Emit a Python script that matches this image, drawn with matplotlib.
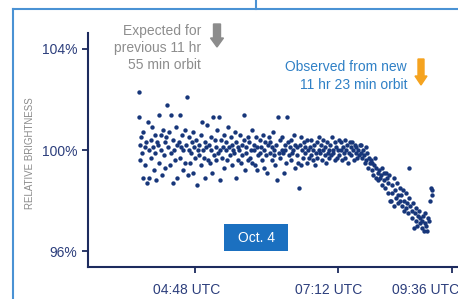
import matplotlib
matplotlib.use("Agg")
import matplotlib.pyplot as plt
from matplotlib.patches import FancyArrow, Rectangle
from matplotlib.lines import Line2D
from matplotlib.transforms import IdentityTransform, ScaledTranslation

plt.rcParams['font.family'] = ['Liberation Sans', 'DejaVu Sans']

# -----------------------------
# Data (hours UTC, relative brightness in %)
# -----------------------------
time_h = [
    3.85, 3.86, 3.87, 3.88, 3.89, 3.90, 3.92, 3.93, 3.95, 3.96, 3.98, 3.99,
    4.01, 4.02, 4.03, 4.05, 4.06, 4.07, 4.09, 4.10, 4.12, 4.13, 4.14, 4.16,
    4.18, 4.19, 4.20, 4.22, 4.23, 4.24, 4.26, 4.27, 4.29, 4.30, 4.31, 4.33,
    4.35, 4.36, 4.38, 4.39, 4.40, 4.42, 4.43, 4.44, 4.46, 4.47, 4.49, 4.50,
    4.52, 4.54, 4.55, 4.56, 4.58, 4.59, 4.60, 4.62, 4.63, 4.65, 4.66, 4.67,
    4.69, 4.70, 4.71, 4.73, 4.74, 4.76, 4.77, 4.78, 4.80, 4.81, 4.83, 4.84,
    4.86, 4.87, 4.89, 4.90, 4.91, 4.93, 4.94, 4.96, 4.97, 4.98, 5.00, 5.01,
    5.03, 5.04, 5.06, 5.07, 5.08, 5.10, 5.11, 5.13, 5.14, 5.15, 5.17, 5.18,
    5.20, 5.21, 5.22, 5.24, 5.25, 5.27, 5.28, 5.29, 5.31, 5.32, 5.34, 5.35,
    5.37, 5.38, 5.40, 5.41, 5.42, 5.44, 5.45, 5.47, 5.48, 5.49, 5.51, 5.52,
    5.54, 5.55, 5.56, 5.58, 5.59, 5.61, 5.62, 5.63, 5.65, 5.66, 5.68, 5.69,
    5.71, 5.72, 5.73, 5.75, 5.76, 5.78, 5.79, 5.80, 5.82, 5.83, 5.84, 5.86,
    5.88, 5.89, 5.90, 5.92, 5.93, 5.95, 5.96, 5.97, 5.99, 6.00, 6.02, 6.03,
    6.05, 6.06, 6.08, 6.09, 6.10, 6.12, 6.13, 6.14, 6.16, 6.17, 6.19, 6.20,
    6.22, 6.23, 6.25, 6.26, 6.27, 6.29, 6.30, 6.31, 6.33, 6.34, 6.36, 6.37,
    6.39, 6.40, 6.41, 6.43, 6.44, 6.46, 6.47, 6.48, 6.50, 6.51, 6.53, 6.54,
    6.56, 6.57, 6.58, 6.60, 6.61, 6.63, 6.64, 6.65, 6.67, 6.68, 6.70, 6.71,
    6.73, 6.74, 6.75, 6.77, 6.78, 6.80, 6.81, 6.82, 6.84, 6.85, 6.87, 6.88,
    6.90, 6.91, 6.92, 6.94, 6.95, 6.97, 6.98, 6.99, 7.01, 7.02, 7.04, 7.05,
    7.07, 7.08, 7.09, 7.11, 7.12, 7.14, 7.15, 7.16, 7.18, 7.19, 7.21, 7.22,
    7.24, 7.25, 7.26, 7.28, 7.29, 7.31, 7.32, 7.33, 7.35, 7.36, 7.38, 7.39,
    7.41, 7.42, 7.43, 7.45, 7.46, 7.48, 7.49, 7.50, 7.52, 7.53, 7.55, 7.56,
    7.58, 7.59, 7.60, 7.62, 7.63, 7.65, 7.66, 7.67, 7.69, 7.70, 7.72, 7.73,
    7.75, 7.76, 7.77, 7.79, 7.80, 7.82, 7.83, 7.84, 7.86, 7.87, 7.89, 7.90,
    7.92, 7.93, 7.94, 7.96, 7.97, 7.99, 8.00, 8.01, 8.03, 8.04, 8.06, 8.07,
    8.09, 8.10, 8.11, 8.13, 8.14, 8.16, 8.17, 8.18, 8.20, 8.21, 8.23, 8.24,
    8.26, 8.27, 8.28, 8.30, 8.31, 8.33, 8.34, 8.35, 8.37, 8.38, 8.39, 8.41,
    8.43, 8.44, 8.46, 8.47, 8.48, 8.50, 8.51, 8.53, 8.54, 8.56, 8.57, 8.58,
    8.60, 8.61, 8.62, 8.64, 8.65, 8.66, 8.68, 8.69, 8.70, 8.72, 8.74, 8.76, 8.77, 8.77,
]

brightness = [
    102.3, 101.3, 100.2, 99.6, 100.5, 99.9, 98.9, 100.7, 100.1, 99.4, 100.3, 98.7,
    101.1, 100.0, 98.9, 100.4, 99.7, 100.9, 100.1, 99.2, 100.6, 99.9, 98.8, 100.3,
    100.2, 101.4, 99.5, 100.6, 100.0, 99.0, 100.8, 99.8, 100.3, 99.3, 100.5, 101.8,
    100.1, 100.7, 99.4, 101.4, 99.9, 100.4, 98.7, 100.0, 99.6, 100.9, 100.2, 98.9,
    100.3, 101.4, 99.7, 100.1, 100.6, 99.2, 100.0, 100.8, 99.5, 100.2, 102.1, 99.0,
    100.0, 100.5, 99.5, 99.9, 100.3, 99.1, 100.7, 100.1, 99.7, 100.4, 98.6, 100.0,
    99.8, 100.2, 100.6, 99.4, 101.1, 100.0, 99.7, 100.3, 98.9, 100.1, 101.0, 99.6,
    100.2, 99.5, 100.5, 100.0, 99.1, 101.3, 99.8, 100.4, 100.1, 99.6, 100.8, 99.9,
    101.3, 100.0, 98.8, 100.4, 99.7, 100.1, 100.6, 99.3, 100.0, 100.3, 99.6, 100.9,
    100.1, 99.8, 100.5, 99.4, 100.2, 100.0, 99.9, 100.7, 98.9, 100.3, 99.6, 100.1,
    100.0, 100.6, 99.5, 100.2, 99.8, 100.4, 101.4, 99.2, 100.1, 99.9, 100.5, 99.6,
    100.3, 99.7, 100.0, 100.8, 99.5, 100.2, 100.0, 99.4, 100.5, 100.1, 99.2, 99.8,
    100.4, 99.9, 100.1, 99.6, 100.6, 100.0, 99.3, 100.3, 99.8, 99.1, 100.2, 100.5,
    99.9, 100.3, 99.6, 100.1, 100.7, 99.8, 100.0, 99.4, 100.2, 98.8, 101.3, 99.9,
    100.4, 99.7, 100.0, 100.5, 99.9, 99.1, 100.2, 100.0, 99.5, 101.3, 100.3, 99.8,
    100.1, 99.6, 100.4, 99.9, 100.0, 100.6, 99.3, 100.2, 99.8, 100.1, 99.5, 98.5,
    100.2, 99.4, 100.5, 100.0, 99.7, 100.3, 99.9, 100.1, 99.5, 100.4, 100.0, 99.7,
    100.1, 99.8, 100.4, 99.6, 100.0, 100.2, 99.4, 99.9, 100.3, 99.7, 100.0, 100.5,
    99.9, 100.2, 99.6, 100.0, 100.4, 99.8, 100.1, 99.5, 100.3, 99.9, 100.0, 99.7,
    100.2, 99.8, 100.5, 99.9, 100.0, 99.6, 100.3, 100.1, 99.7, 100.0, 100.4, 99.8,
    100.0, 100.3, 99.6, 100.1, 99.9, 100.4, 99.7, 100.0, 100.2, 99.5, 99.9, 100.3,
    100.1, 99.8, 100.3, 100.0, 99.6, 100.2, 99.9, 100.1, 99.7, 100.0, 99.8, 100.2,
    99.9, 100.2, 99.7, 100.0, 99.8, 99.5, 100.1, 99.6, 99.9, 99.3, 99.7, 99.5,
    99.6, 99.2, 99.5, 99.0, 99.4, 99.7, 98.9, 99.3, 99.1, 98.8, 99.2, 98.9,
    99.0, 98.6, 99.3, 98.8, 99.1, 98.5, 99.1, 98.9, 98.3, 98.7, 99.0, 98.0,
    98.0, 98.6, 98.3, 98.9, 97.8, 98.4, 98.1, 98.7, 98.2, 97.9, 98.5, 98.0,
    98.2, 97.8, 98.4, 97.6, 98.0, 97.7, 98.3, 97.9, 97.5, 98.1, 99.3, 97.8,
    97.6, 97.3, 97.9, 96.9, 97.5, 97.2, 97.7, 97.0, 97.4, 97.6, 97.1, 97.3,
    97.2, 96.9, 97.4, 96.8, 97.1, 97.5, 97.0, 96.8, 97.3, 97.2, 98.0, 98.5, 98.2, 98.4,
]

y_ticks = [96, 100, 104]
y_tick_labels = ["96%", "100%", "104%"]
x_ticks = [4.8, 7.2, 9.11]
x_tick_labels = ["04:48 UTC", "07:12 UTC", "09:36 UTC"]

W, H = 458, 299
NAVY = "#1d2b5e"
DOT = "#17367a"


def fx(px):
    return px / W


def fy(py):
    # py measured from the top of the image
    return 1 - py / H


fig = plt.figure(figsize=(W / 100, H / 100), dpi=100)
fig.patch.set_facecolor("white")

ax = fig.add_axes([fx(88), fy(267), fx(W - 88), (267 - 33) / H])
ax.scatter(time_h, brightness, s=10, color=DOT, linewidths=0, zorder=3)

ax.set_xlim(3.0, 9.21)
ax.set_ylim(95.37, 104.63)
ax.set_yticks(y_ticks)
ax.set_yticklabels(y_tick_labels)
ax.set_xticks(x_ticks)
ax.set_xticklabels(x_tick_labels)

for side in ["top", "right"]:
    ax.spines[side].set_visible(False)
for side in ["left", "bottom"]:
    ax.spines[side].set_color(NAVY)
    ax.spines[side].set_linewidth(1.5)

ax.tick_params(axis="y", length=4.5, width=1.3, color=NAVY, pad=3,
               labelsize=10, labelcolor="#2c3e7c")
ax.tick_params(axis="x", length=4.5, width=1.3, color=NAVY, pad=7,
               labelsize=10, labelcolor="#2c3e7c")

# the time labels sit a little left of their ticks in the original
for lbl, shift_px in zip(ax.get_xticklabels(), [-9, -10, -26]):
    lbl.set_transform(lbl.get_transform() +
                      ScaledTranslation(shift_px / 100, 0, fig.dpi_scale_trans))

# y axis title
fig.text(fx(30), fy(153), "RELATIVE BRIGHTNESS", rotation=90, ha="center",
         va="center", fontsize=7, color="#8a8a8a")

# annotations
fig.text(fx(201), fy(48), "Expected for\nprevious 11 hr\n55 min orbit",
         ha="right", va="center", fontsize=10, color="#8d8d8d",
         linespacing=1.3)
fig.text(fx(407), fy(76), "Observed from new\n11 hr 23 min orbit",
         ha="right", va="center", fontsize=10, color="#2f80c6",
         linespacing=1.35)

# block arrows (pixel coordinates)
fig.add_artist(FancyArrow(217, H - 24, 0, -23, width=7, head_width=13,
                          head_length=9, length_includes_head=True,
                          color="#8c8c8c", transform=IdentityTransform()))
fig.add_artist(FancyArrow(421, H - 59, 0, -26, width=6, head_width=12,
                          head_length=9, length_includes_head=True,
                          color="#f5a31f", transform=IdentityTransform()))

# date box
fig.add_artist(Rectangle((fx(224), fy(251)), fx(64), (251 - 224) / H,
                         transform=fig.transFigure, facecolor="#1b70c0",
                         edgecolor="none"))
fig.text(fx(256), fy(237.5), "Oct. 4", ha="center", va="center",
         fontsize=10, color="white")

# light blue panel frame
FRAME = "#4a92d4"
fig.add_artist(Line2D([fx(13), 1], [fy(9), fy(9)], color=FRAME, lw=1.5,
                      transform=fig.transFigure))
fig.add_artist(Line2D([fx(13), fx(13)], [0, fy(9)], color=FRAME, lw=1.5,
                      transform=fig.transFigure))
fig.add_artist(Line2D([fx(256), fx(256)], [fy(9), 1], color=FRAME, lw=1.5,
                      transform=fig.transFigure))

fig.savefig("out.png", dpi=100)
